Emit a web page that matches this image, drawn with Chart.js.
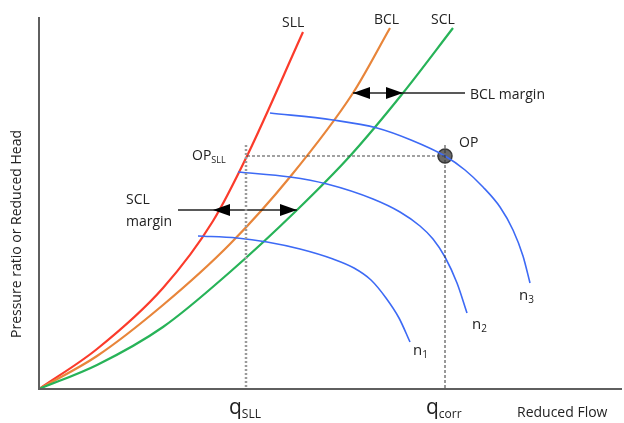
<!DOCTYPE html>
<html>
<head>
<meta charset="utf-8">
<script src="https://cdn.jsdelivr.net/npm/chart.js@4"></script>
<style>
  body { margin: 0; background: #fff; }
</style>
</head>
<body>
<canvas id="map" width="624" height="423"></canvas>
<script>
// flow / head (arbitrary units, origin at the axes corner)
const sllFlow = [0, 58, 124, 174, 208, 264];
const sllHead = [0, 40, 101, 168, 233, 357];

const bclFlow = [0, 58, 124, 191, 251, 314, 351];
const bclHead = [0, 33, 84, 145, 212, 296, 361];

const sclFlow = [0, 58, 124, 191, 258, 311, 364, 414];
const sclHead = [0, 24, 62, 117, 179, 233, 296, 361];

const n1Flow = [159, 198, 228, 261, 294, 315, 332, 347, 360, 371];
const n1Head = [153, 151, 147, 140, 130, 121, 109, 91, 71, 47];

const n2Flow = [199, 251, 288, 334, 361, 381, 394, 406, 418, 428];
const n2Head = [217, 212, 205, 190, 177, 163, 150, 132, 106, 76];

const n3Flow = [231, 294, 338, 372, 406, 426, 444, 461, 474, 484, 491];
const n3Head = [276, 269, 261, 249, 233, 219, 202, 182, 159, 133, 106];

// operating point and the surge limit point at the same head
const opPoint = { x: 406, y: 233 };
const sllPoint = { x: 208, y: 233 };

// margin arrows: tips at from / to, plain line out to tail
const bclMargin = { y: 296, from: 314, to: 364, tail: 426 };
const sclMargin = { y: 179, from: 174, to: 258, tail: 139 };

function pts(xs, ys) {
    return xs.map((x, i) => ({ x: x, y: ys[i] }));
}

function curve(xs, ys, color, width) {
    return {
        data: pts(xs, ys),
        showLine: true,
        borderColor: color,
        borderWidth: width,
        pointRadius: 0,
        cubicInterpolationMode: 'monotone',
        fill: false
    };
}

function straight(a, b, color, width, dash) {
    return {
        data: [a, b],
        showLine: true,
        borderColor: color,
        borderWidth: width,
        borderDash: dash,
        pointRadius: 0,
        tension: 0
    };
}

const FONT = '"Open Sans", sans-serif';

// axes, arrow heads and all the labels
const overlay = {
    id: 'overlay',
    afterDatasetsDraw(chart) {
        const ctx = chart.ctx;
        const xs = chart.scales.x, ys = chart.scales.y;
        const px = (v) => xs.getPixelForValue(v);
        const py = (v) => ys.getPixelForValue(v);
        const a = chart.chartArea;

        ctx.save();
        // axis lines
        ctx.strokeStyle = '#5f5f5f';
        ctx.lineWidth = 2;
        ctx.beginPath();
        ctx.moveTo(a.left, a.top);
        ctx.lineTo(a.left, a.bottom);
        ctx.lineTo(a.right, a.bottom);
        ctx.stroke();

        // arrow heads
        function head(tipX, y, dir) {
            const x = px(tipX), yy = py(y);
            ctx.fillStyle = '#000';
            ctx.beginPath();
            ctx.moveTo(x, yy);
            ctx.lineTo(x - dir * 17, yy - 6);
            ctx.lineTo(x - dir * 17, yy + 6);
            ctx.closePath();
            ctx.fill();
        }
        head(bclMargin.from, bclMargin.y, -1);
        head(bclMargin.to, bclMargin.y, 1);
        head(sclMargin.from, sclMargin.y, -1);
        head(sclMargin.to, sclMargin.y, 1);

        ctx.fillStyle = '#222';
        ctx.textBaseline = 'middle';
        ctx.textAlign = 'left';

        function text(s, x, y, size) {
            ctx.font = size + 'px ' + FONT;
            ctx.fillText(s, x, y);
            return ctx.measureText(s).width;
        }
        function sub(main, small, x, y, size, smallSize) {
            const w = text(main, x, y, size);
            text(small, x + w, y + size * 0.3, smallSize);
        }

        text('SLL', 282, 23, 14);
        text('BCL', 374, 20, 14);
        text('SCL', 431, 20, 14);
        text('BCL margin', 470, 95, 14);
        text('SCL', 126, 200, 14);
        text('margin', 126, 222, 14);
        text('OP', 459, 143, 14);
        sub('OP', 'SLL', 192, 156, 14, 9);
        sub('n', '1', 413, 351, 15, 10);
        sub('n', '2', 472, 325, 15, 10);
        sub('n', '3', 519, 296, 15, 10);
        sub('q', 'SLL', 229, 408, 21, 12);
        sub('q', 'corr', 426, 408, 21, 12);
        text('Reduced Flow', 517, 413, 14);

        ctx.translate(17, 234);
        ctx.rotate(-Math.PI / 2);
        ctx.textAlign = 'center';
        ctx.font = '14px ' + FONT;
        ctx.fillText('Pressure ratio or Reduced Head', 0, 0);
        ctx.restore();
    }
};

new Chart(document.getElementById('map'), {
    type: 'scatter',
    data: {
        datasets: [
            straight({ x: sllPoint.x - 1, y: -6 }, { x: sllPoint.x - 1, y: 245 }, '#9a9a9a', 2.5, [2, 2]),
            straight({ x: opPoint.x, y: -9 }, { x: opPoint.x, y: opPoint.y + 12 }, '#333', 1, [3, 2]),
            straight(sllPoint, opPoint, '#444', 1.2, [3, 2]),
            straight({ x: bclMargin.from, y: bclMargin.y }, { x: bclMargin.tail, y: bclMargin.y }, '#222', 1.5, []),
            straight({ x: sclMargin.tail, y: sclMargin.y }, { x: sclMargin.to, y: sclMargin.y }, '#222', 1.5, []),
            curve(n1Flow, n1Head, '#3d6af5', 1.6),
            curve(n2Flow, n2Head, '#3d6af5', 1.6),
            curve(n3Flow, n3Head, '#3d6af5', 1.6),
            curve(sclFlow, sclHead, '#27b358', 2.2),
            curve(bclFlow, bclHead, '#e8853a', 2.2),
            curve(sllFlow, sllHead, '#fb3b2b', 2.2),
            {
                data: [opPoint],
                pointRadius: 7,
                pointBackgroundColor: '#6a6a6a',
                pointBorderColor: '#3a3a3a',
                pointBorderWidth: 1.5
            }
        ]
    },
    options: {
        responsive: false,
        animation: false,
        layout: { autoPadding: false, padding: { left: 39, right: 2, top: 17, bottom: 34 } },
        plugins: { legend: { display: false }, tooltip: { enabled: false } },
        scales: {
            x: { type: 'linear', min: 0, max: 583, display: false },
            y: { type: 'linear', min: 0, max: 372, display: false }
        }
    },
    plugins: [overlay]
});
</script>
</body>
</html>
